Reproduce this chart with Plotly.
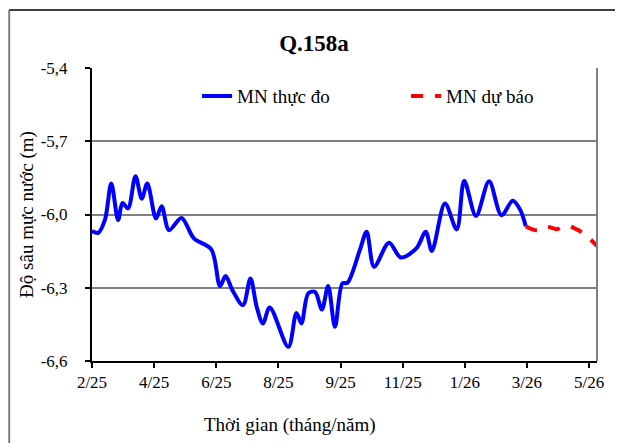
import plotly.graph_objects as go

# Category positions (in tick-interval units) and values
obs_x = [0.00, 0.10, 0.21, 0.31, 0.42, 0.49, 0.58, 0.70, 0.80, 0.89, 1.03, 1.12, 1.24,
         1.44, 1.64, 1.92, 2.06, 2.15, 2.26, 2.43, 2.55, 2.65, 2.75, 2.86, 3.16, 3.29,
         3.37, 3.48, 3.59, 3.70, 3.80, 3.91, 4.03, 4.11, 4.31, 4.42, 4.54, 4.78, 4.97,
         5.22, 5.37, 5.47, 5.68, 5.87, 5.99, 6.18, 6.39, 6.59, 6.77, 6.89, 6.98]
obs_y = [-6.068, -6.075, -6.02, -5.873, -6.023, -5.953, -5.975, -5.843, -5.935, -5.873,
         -6.016, -5.966, -6.064, -6.014, -6.098, -6.143, -6.293, -6.252, -6.31, -6.371,
         -6.262, -6.378, -6.446, -6.381, -6.542, -6.403, -6.446, -6.323, -6.317, -6.389,
         -6.293, -6.46, -6.282, -6.28, -6.146, -6.071, -6.214, -6.116, -6.176, -6.139,
         -6.071, -6.149, -5.955, -6.061, -5.862, -6.006, -5.864, -6.003, -5.944, -5.98,
         -6.048]

fc_x = [6.98, 7.16, 7.32, 7.48, 7.64, 7.81, 7.97, 8.13]
fc_y = [-6.048, -6.065, -6.05, -6.06, -6.045, -6.062, -6.09, -6.13]

tick_pos = [0, 1, 2, 3, 4, 5, 6, 7, 8]
tick_labels = ["2/25", "4/25", "6/25", "8/25", "9/25", "11/25", "1/26", "3/26", "5/26"]
y_ticks = [-6.6, -6.3, -6.0, -5.7, -5.4]
y_labels = ["-6,6", "-6,3", "-6,0", "-5,7", "-5,4"]

FONT = "Liberation Serif"

fig = go.Figure()
fig.add_trace(go.Scatter(x=obs_x, y=obs_y, mode="lines", name="MN thực đo",
                         line=dict(color="#0000FF", width=4, shape="spline", smoothing=0.9)))
fig.add_trace(go.Scatter(x=fc_x, y=fc_y, mode="lines", name="MN dự báo",
                         line=dict(color="#FF0000", width=4, dash="dash", shape="spline",
                                   smoothing=0.9)))

fig.update_layout(
    width=615, height=435,
    margin=dict(l=84, r=26, t=60, b=82, autoexpand=False),
    paper_bgcolor="white", plot_bgcolor="white",
    font=dict(family=FONT, size=16, color="black"),
    title=dict(text="<b>Q.158a</b>", x=306 / 615, xref="container", xanchor="center",
               y=1 - 35 / 435, yanchor="middle", font=dict(family=FONT, size=23)),
    showlegend=True,
    legend=dict(orientation="h", x=0.208, xanchor="left", y=0.904, yanchor="middle",
                bgcolor="rgba(0,0,0,0)", font=dict(family=FONT, size=19),
                entrywidth=164, entrywidthmode="pixels"),
    xaxis=dict(range=[0, 8.127], tickmode="array", tickvals=tick_pos, ticktext=tick_labels,
               showgrid=False, zeroline=False, showline=True, linecolor="black", linewidth=2,
               ticks="outside", ticklen=5, tickwidth=1.5, tickcolor="black",
               tickfont=dict(family=FONT, size=17)),
    yaxis=dict(range=[-6.6, -5.4], tickmode="array", tickvals=y_ticks, ticktext=y_labels,
               showgrid=True, gridcolor="#808080", gridwidth=2,
               zeroline=False, showline=True, linecolor="black", linewidth=2,
               ticks="outside", ticklen=5, tickwidth=1.5, tickcolor="black",
               ticklabelstandoff=14,
               tickfont=dict(family=FONT, size=17),
               title=dict(text="Độ sâu mực nước (m)", font=dict(family=FONT, size=19),
                          standoff=2)),
    annotations=[
        dict(text="Thời gian (tháng/năm)", xref="paper", yref="paper", x=0.392, y=-0.218,
             xanchor="center", yanchor="middle", showarrow=False,
             font=dict(family=FONT, size=19)),
    ],
    shapes=[
        dict(type="line", xref="paper", yref="paper", x0=1, x1=1, y0=0, y1=1,
             line=dict(color="#808080", width=2)),
        dict(type="line", xref="paper", yref="paper", x0=-0.164, x1=-0.164, y0=-0.4, y1=1.1983,
             line=dict(color="#808080", width=2)),
        dict(type="line", xref="paper", yref="paper", x0=-0.164, x1=1.2, y0=1.1983, y1=1.1983,
             line=dict(color="#404040", width=2)),
    ],
)

fig.write_html("out.html")
